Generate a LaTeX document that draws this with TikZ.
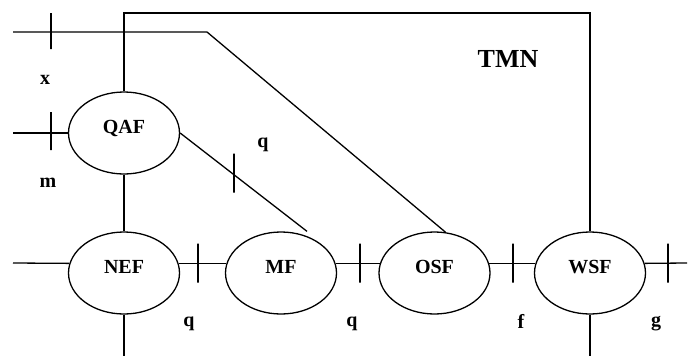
\documentclass[tikz,border=0pt]{standalone}
\usepackage{fontspec}
\setmainfont{Liberation Serif}
\usetikzlibrary{shapes.geometric,calc}
\begin{document}
\begin{tikzpicture}[x=1pt,y=-1pt,line width=1.3pt,
  func/.style={draw,ellipse,minimum width=111pt,minimum height=82pt,inner sep=0pt,
    text height=12pt,text depth=12pt,font=\fontsize{20}{24}\selectfont\bfseries},
  tickmark/.style={draw,rectangle,minimum width=0pt,minimum height=39pt,inner sep=0pt},
  ref/.style={inner sep=0pt,font=\fontsize{20}{24}\selectfont\bfseries}]
\useasboundingbox (0,0) rectangle (692,356);

% function blocks
\node[func] (qaf) at (124,133) {QAF};
\node[func] (nef) at (124,273) {NEF};
\node[func] (mf)  at (281,273) {MF};
\node[func] (osf) at (434.5,273) {OSF};
\node[func] (wsf) at (590,273) {WSF};

% free ends and bends
\coordinate (top)   at (0,13);
\coordinate (bot)   at (0,356);
\coordinate (xin)   at (13,32);
\coordinate (xbend) at (207,32);
\coordinate (min)   at (13,133);
\coordinate (lin)   at (13,263);
\coordinate (gout)  at (687,263);
\coordinate (mftop) at ($(mf.north)+(26,0)$);

% TMN boundary
\draw (qaf.north) -- (qaf.north |- top) -| (wsf.north);
\draw (wsf.south) -- (wsf.south |- bot);
\draw (nef.south) -- (nef.south |- bot);

% connections
\draw (xin) -- (xbend) -- (osf.75);
\draw (min) -- (qaf.west);
\draw (qaf.south) -- (nef.north);
\draw (qaf.east) -- (mftop);
\draw (lin) -- (nef.170);
\draw (nef.10) -- (mf.170);
\draw (mf.10) -- (osf.170);
\draw (osf.10) -- (wsf.170);
\draw (wsf.10) -- (gout);

% reference point marks
\node[tickmark,minimum height=36pt] (tx) at (51,31) {};
\node[tickmark,minimum height=38pt] (tm) at (51,131) {};
\node[tickmark] (tq1) at (234,173) {};
\node[tickmark] (tq2) at (198,263) {};
\node[tickmark] (tq3) at (360,263) {};
\node[tickmark] (tf)  at (513,263) {};
\node[tickmark] (tg)  at (668,263) {};

% labels
\node[ref] (lx)  at (45,80) {x};
\node[ref] (lq1) at (263,145) {q};
\node[ref] (lm)  at (48,183) {m};
\node[ref] (lq2) at (189,324) {q};
\node[ref] (lq3) at (352,324) {q};
\node[ref] (lf)  at (521,321) {f};
\node[ref] (lg)  at (656,324) {g};
\node[inner sep=0pt,font=\fontsize{26}{30}\selectfont\bfseries] (tmn) at (508,59) {TMN};
\end{tikzpicture}
\end{document}
